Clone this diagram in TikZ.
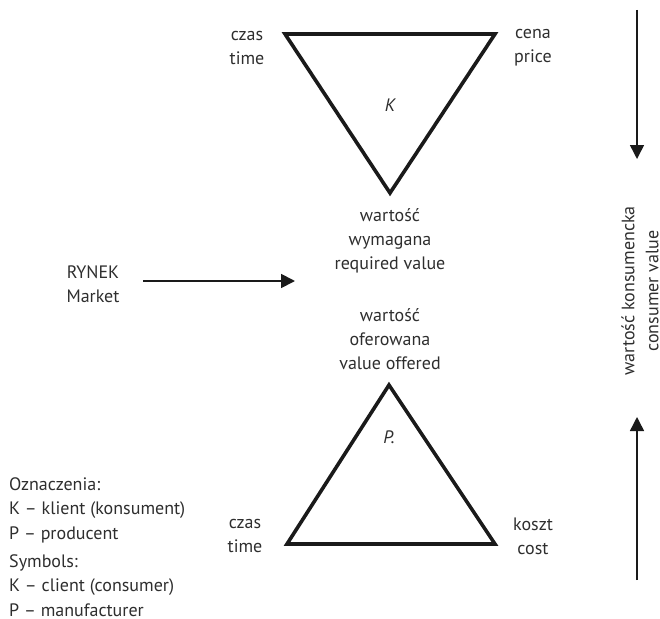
\documentclass[tikz,border=0pt]{standalone}
\usepackage{fontspec}
\setmainfont{PT Sans}
\usetikzlibrary{arrows.meta}
\definecolor{txt}{HTML}{2E2E2E}
\definecolor{ln}{HTML}{1A1A1A}
\tikzset{
  lbl/.style={text=txt, align=center, inner sep=0pt, font=\fontsize{18}{24}\selectfont},
  leg/.style={text=txt, align=left, inner sep=0pt, anchor=west, font=\fontsize{18}{24.5}\selectfont},
  tri/.style={draw=ln, line width=3.6pt, line join=miter},
  arr/.style={draw=ln, line width=1.8pt, -{Triangle[width=14pt,length=14pt]}},
}
\begin{document}
\begin{tikzpicture}[x=1pt,y=-1pt]
\useasboundingbox (0,0) rectangle (660,618);
% top triangle (K)
\coordinate (t1) at (285,34);
\coordinate (t2) at (495,34);
\coordinate (t3) at (390,193);
\draw[tri] (t1) -- (t2) -- (t3) -- cycle;
% bottom triangle (P)
\coordinate (b1) at (389,385);
\coordinate (b2) at (287,544);
\coordinate (b3) at (495,544);
\draw[tri] (b1) -- (b2) -- (b3) -- cycle;
% labels
\node[lbl] (czasT) at (247,47.5) {czas\\time};
\node[lbl] (cena) at (533,47.5) {cena\\price};
\node[lbl, font=\fontsize{18}{24}\selectfont\itshape] (K) at (390,105) {K};
\node[lbl] (req) at (390,241) {wartość\\wymagana\\required value};
\node[lbl] (off) at (390,339) {wartość\\oferowana\\value offered};
\node[lbl, font=\fontsize{18}{24}\selectfont\itshape] (P) at (389,437) {P.};
\node[lbl] (czasB) at (245,536) {czas\\time};
\node[lbl] (koszt) at (533,536) {koszt\\cost};
\node[lbl] (rynek) at (93,284.5) {RYNEK\\Market};
% legend
\node[leg] (leg1) at (9,510) {Oznaczenia:\\K – klient (konsument)\\P – producent};
\node[leg] (leg2) at (9,585.5) {Symbols:\\K – client (consumer)\\P – manufacturer};
% market arrow
\coordinate (mS) at (143,281);
\coordinate (mE) at (295,281);
\draw[arr] (mS) -- (mE);
% right side
\node[lbl, rotate=90] (cv) at (640,291) {wartość konsumencka\\consumer value};
\coordinate (a1s) at (637,10);
\coordinate (a1e) at (637,159);
\draw[arr, line width=1.5pt] (a1s) -- (a1e);
\coordinate (a2s) at (637,580);
\coordinate (a2e) at (637,417);
\draw[arr, line width=1.5pt] (a2s) -- (a2e);
\end{tikzpicture}
\end{document}
